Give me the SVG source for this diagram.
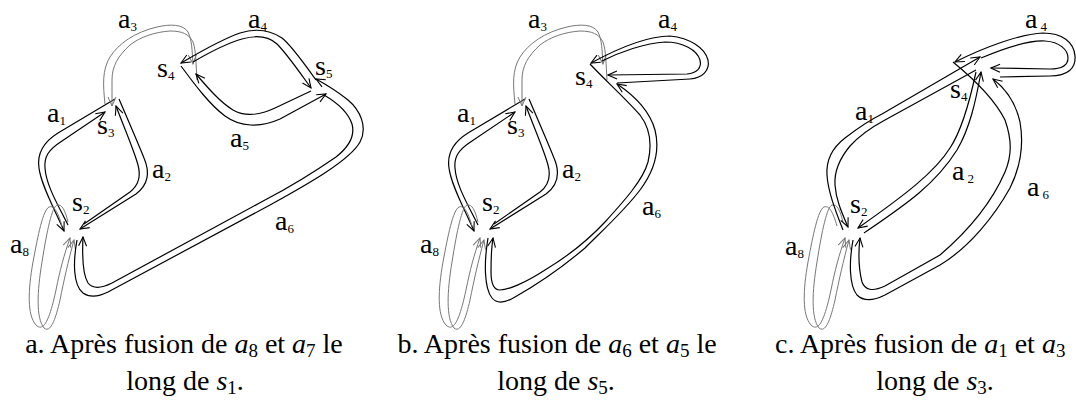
<svg xmlns="http://www.w3.org/2000/svg" xmlns:xlink="http://www.w3.org/1999/xlink" width="1076" height="417" viewBox="0 0 1076 417">
<defs>
<marker id="ab" viewBox="-10 -5 11 10" refX="0" refY="0" markerWidth="11" markerHeight="10" markerUnits="userSpaceOnUse" orient="auto"><path d="M-9,-4 L0,0 L-9,4" fill="none" stroke="#000" stroke-width="1.1"/></marker>
<marker id="ag" viewBox="-10 -5 11 10" refX="0" refY="0" markerWidth="11" markerHeight="10" markerUnits="userSpaceOnUse" orient="auto"><path d="M-9,-4 L0,0 L-9,4" fill="none" stroke="#777" stroke-width="1"/></marker>
<style>
.b{fill:none;stroke:#000;stroke-width:1.2;marker-end:url(#ab)}
.g{fill:none;stroke:#777;stroke-width:1;marker-end:url(#ag)}
.lb{font-family:"Liberation Serif","Times New Roman",serif;font-size:28px;fill:#000}
.sb{font-size:13px}
.cap{font-family:"Liberation Serif","Times New Roman",serif;font-size:28px;fill:#000}
.m{font-style:italic}
.cs{font-size:19px}
</style>
<g id="leftA">
<path class="b" d="M115,99 L58,133 C42,143 37,155 39,168 C41,185 55,210 64,231"/>
<path class="b" d="M68,225 C58,205 46,185 45,168 C44,157 48,150 62,141 L105,112"/>
<path class="b" d="M119,99 C128,120 138,143 144,158 C150,172 148,185 136,194 L80,229"/>
<path class="b" d="M84,224 L130,192 C139,185 141,176 138,165 C134,150 125,130 116,106"/>
<path class="g" d="M105,104 C103,85 102,70 110,57 C118,44 135,32 157,27 C170,24 183,24 188,32 C192,40 192,50 193,64"/>
<path class="g" d="M197,80 C196,65 196,50 193,42 C189,34 182,31 170,31 C155,32 140,37 130,45 C118,56 112,66 112,80 L112,106"/>
</g>
<g id="loopA">
<path class="g" d="M62,226 C58,212 54,205 49,207 C43,210 38,235 33,262 C28,290 27,315 36,325 C44,333 50,318 56,290 C60,270 64,255 70,238"/>
<path class="g" d="M68,222 C65,210 62,204 57,205 C52,207 47,230 42,262 C37,292 36,318 44,328 C50,333 55,322 60,300 C64,280 68,262 74,240"/>
</g>
</defs>

<g id="connectors">
<!-- panel a -->
<use xlink:href="#leftA"/>
<use xlink:href="#loopA"/>
<path class="b" d="M316,80 C303,62 292,46 282,38 C270,30 256,28 240,33 C220,40 200,52 181,63"/>
<path class="b" d="M193,62 C210,52 228,43 242,39 C256,35 268,36 277,44 C287,54 298,70 311,88"/>
<path class="b" d="M181,66 C195,85 210,105 225,116 C240,127 260,128 280,119 L326,94"/>
<path class="b" d="M311,91 L275,108 C260,115 245,117 233,110 C220,102 208,88 196,74"/>
<path class="b" d="M77,240 C73,262 73,285 83,293 C90,298 98,297 108,292 L270,205 C310,183 350,160 360,142 C368,127 360,110 348,100 C338,92 327,85 316,79"/>
<path class="b" d="M324,95 C336,102 348,112 352,124 C355,135 350,146 336,157 C310,175 290,187 265,200 L112,283 C100,289 92,288 88,283 C83,275 82,258 83,237"/>
<!-- panel b -->
<use xlink:href="#leftA" transform="translate(410,0)"/>
<use xlink:href="#loopA" transform="translate(410,0)"/>
<path class="b" d="M617,83 L690,79 C703,78 710,70 708,60 C705,48 690,38 670,36 C645,36 615,50 591,63"/>
<path class="b" d="M602,61 C620,52 645,43 665,42 C683,42 697,50 700,60 C702,68 697,73 687,74 L608,75"/>
<path class="b" d="M488,238 C484,262 484,288 492,298 C497,304 505,303 515,297 C545,280 565,265 585,248 C605,228 625,210 640,190 C655,170 660,150 655,130 C650,112 638,98 617,84"/>
<path class="b" d="M590,64 C605,80 625,98 640,115 C650,128 652,145 648,162 C643,180 625,200 605,222 C590,238 570,255 545,270 C525,283 508,290 500,290 C493,290 491,283 491,272 C491,262 491,250 493,238"/>
<!-- panel c -->
<use xlink:href="#loopA" transform="translate(775,0)"/>
<path class="b" d="M843,230 C836,212 828,192 827,175 C826,160 832,148 845,138 C858,128 870,120 882,114 L980,57"/>
<path class="b" d="M976,70 L885,120 C872,127 860,135 850,146 C840,158 834,170 835,185 C836,200 842,213 848,227"/>
<path class="b" d="M976,72 C970,100 962,130 950,148 C935,172 905,195 858,228"/>
<path class="b" d="M864,233 C905,205 935,185 957,150 C970,128 976,100 981,72"/>
<path class="b" d="M1000,77 L1050,76 C1068,76 1076,68 1075,56 C1074,42 1062,33 1043,33 C1020,34 985,47 955,62"/>
<path class="b" d="M981,58 C1005,48 1030,40 1045,41 C1060,42 1068,50 1068,58 C1068,66 1062,69 1050,69 L991,68"/>
<path class="b" d="M853,240 C849,262 849,285 857,295 C864,302 875,300 885,295 L940,265 C970,247 995,215 1010,188 C1020,168 1024,145 1020,122 C1016,104 1006,89 993,79"/>
<path class="b" d="M953,62 C975,80 995,100 1005,120 C1012,140 1012,155 1005,172 C995,195 975,225 940,255 L885,286 C872,292 865,290 862,282 C859,270 858,255 860,238"/>
</g>

<g id="edge-labels" class="lb">
<text x="47" y="122">a<tspan class="sb" dy="3">1</tspan></text>
<text x="152" y="178">a<tspan class="sb" dy="3">2</tspan></text>
<text x="118" y="28">a<tspan class="sb" dy="3">3</tspan></text>
<text x="248" y="28">a<tspan class="sb" dy="3">4</tspan></text>
<text x="230" y="147">a<tspan class="sb" dy="3">5</tspan></text>
<text x="275" y="230">a<tspan class="sb" dy="3">6</tspan></text>
<text x="10" y="253">a<tspan class="sb" dy="3">8</tspan></text>
<text x="457" y="122">a<tspan class="sb" dy="3">1</tspan></text>
<text x="562" y="178">a<tspan class="sb" dy="3">2</tspan></text>
<text x="528" y="28">a<tspan class="sb" dy="3">3</tspan></text>
<text x="658" y="28">a<tspan class="sb" dy="3">4</tspan></text>
<text x="642" y="215">a<tspan class="sb" dy="3">6</tspan></text>
<text x="420" y="253">a<tspan class="sb" dy="3">8</tspan></text>
<text x="855" y="120">a<tspan class="sb" dy="3">1</tspan></text>
<text x="952" y="180">a<tspan class="sb" dx="3" dy="3">2</tspan></text>
<text x="1025" y="28">a<tspan class="sb" dx="3" dy="3">4</tspan></text>
<text x="1027" y="196">a<tspan class="sb" dx="3" dy="3">6</tspan></text>
<text x="785" y="255">a<tspan class="sb" dy="3">8</tspan></text>
</g>

<g id="a-s2" class="lb"><text x="72" y="211">s<tspan class="sb" dy="3">2</tspan></text></g>
<g id="a-s3" class="lb"><text x="97" y="134">s<tspan class="sb" dy="3">3</tspan></text></g>
<g id="a-s4" class="lb"><text x="157" y="77">s<tspan class="sb" dy="3">4</tspan></text></g>
<g id="a-s5" class="lb"><text x="315" y="75">s<tspan class="sb" dy="3">5</tspan></text></g>
<g id="b-s2" class="lb"><text x="482" y="211">s<tspan class="sb" dy="3">2</tspan></text></g>
<g id="b-s3" class="lb"><text x="507" y="134">s<tspan class="sb" dy="3">3</tspan></text></g>
<g id="b-s4" class="lb"><text x="575" y="85">s<tspan class="sb" dy="3">4</tspan></text></g>
<g id="c-s2" class="lb"><text x="850" y="213">s<tspan class="sb" dy="3">2</tspan></text></g>
<g id="c-s4" class="lb"><text x="950" y="98">s<tspan class="sb" dy="3">4</tspan></text></g>

<g id="captions" class="cap" text-anchor="middle">
<text x="184" y="353">a. Après fusion de <tspan class="m">a</tspan><tspan class="cs" dy="4">8</tspan><tspan dy="-4"> et </tspan><tspan class="m">a</tspan><tspan class="cs" dy="4">7</tspan><tspan dy="-4"> le</tspan></text>
<text x="185" y="390">long de <tspan class="m">s</tspan><tspan class="cs" dy="4">1</tspan><tspan dy="-4">.</tspan></text>
<text x="557" y="353">b. Après fusion de <tspan class="m">a</tspan><tspan class="cs" dy="4">6</tspan><tspan dy="-4"> et </tspan><tspan class="m">a</tspan><tspan class="cs" dy="4">5</tspan><tspan dy="-4"> le</tspan></text>
<text x="556" y="390">long de <tspan class="m">s</tspan><tspan class="cs" dy="4">5</tspan><tspan dy="-4">.</tspan></text>
<text x="775" y="353" text-anchor="start">c. Après fusion de <tspan class="m">a</tspan><tspan class="cs" dy="4">1</tspan><tspan dy="-4"> et </tspan><tspan class="m">a</tspan><tspan class="cs" dy="4">3</tspan></text>
<text x="935" y="390">long de <tspan class="m">s</tspan><tspan class="cs" dy="4">3</tspan><tspan dy="-4">.</tspan></text>
</g>
</svg>
